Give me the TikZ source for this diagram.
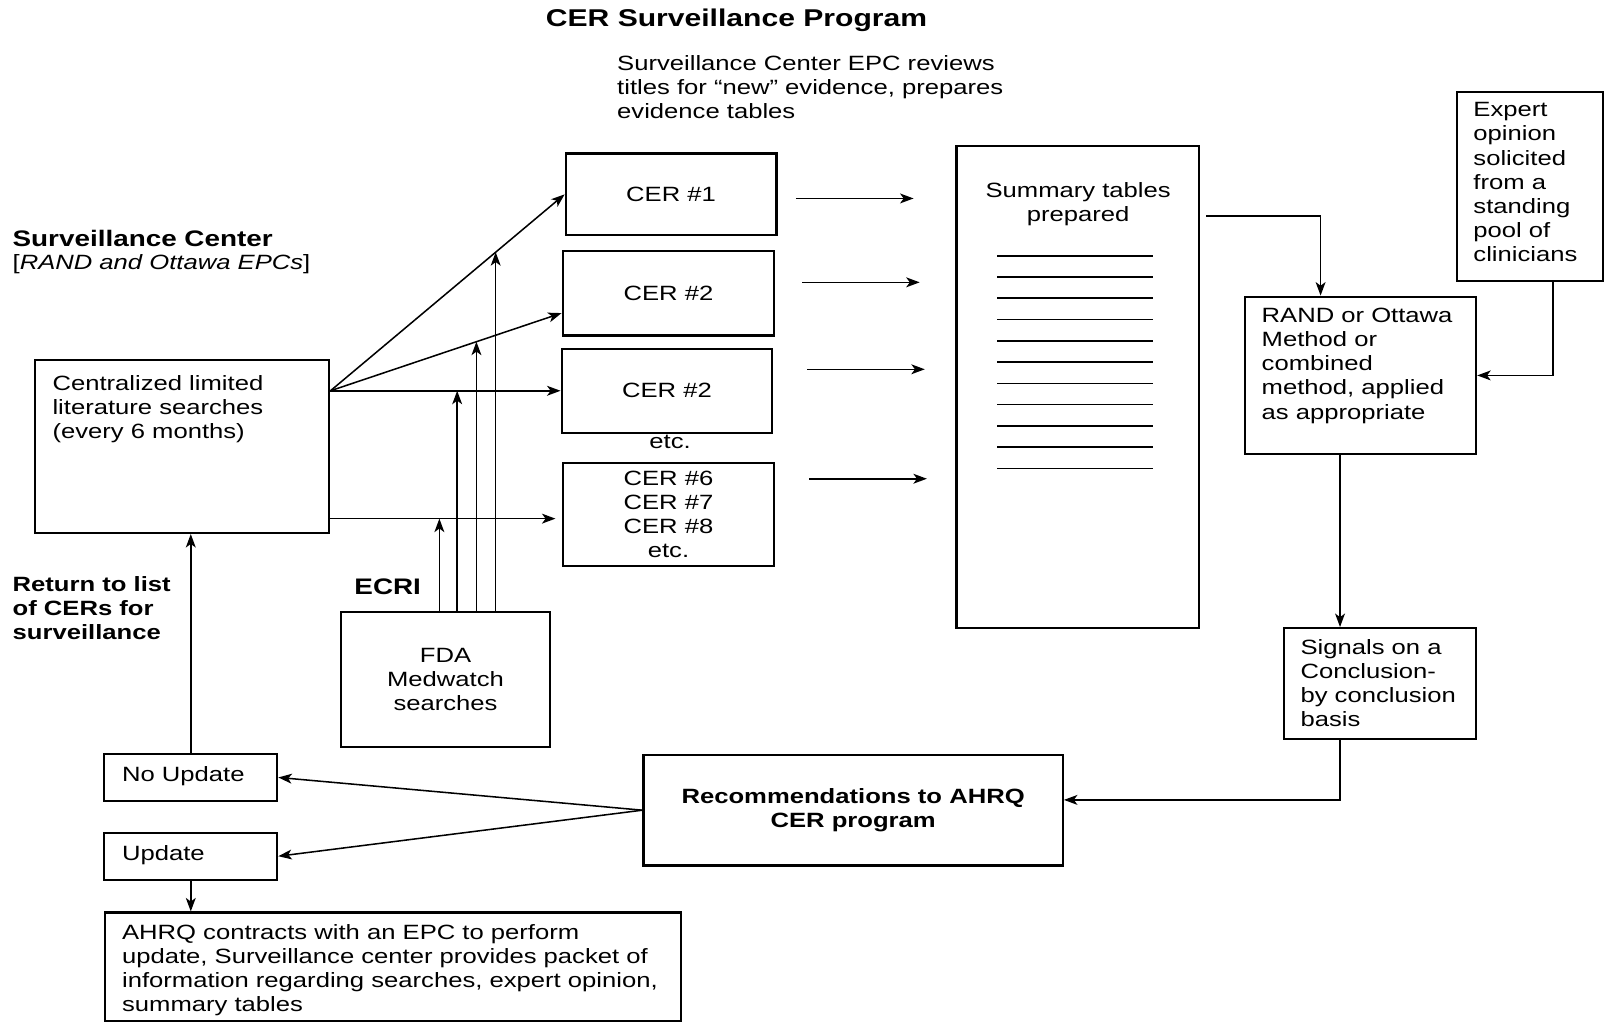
\documentclass[tikz,border=0pt]{standalone}
\usepackage{fontspec}
\setmainfont{Liberation Sans}[FakeStretch=1.24]
\usetikzlibrary{fit,calc,arrows.meta}

\begin{document}
\begin{tikzpicture}[x=0.02cm,y=-0.02cm,
  every node/.style={inner sep=0pt,font=\fontsize{11.5}{13.4}\selectfont},
  box/.style={draw,line width=1.2pt},
  lefttext/.style={anchor=north west,align=left},
  boldtext/.style={font=\fontsize{11.5}{13.4}\selectfont\bfseries},
  bigtext/.style={font=\fontsize{12.5}{15}\selectfont\bfseries},
  arr/.style={-{Stealth[length=7.5pt,width=5.5pt,inset=2pt]},line width=0.85pt}]

  \useasboundingbox (0,0) rectangle (1568,1000);

  \path (720,26) node[anchor=base,font=\fontsize{13.5}{16}\selectfont\bfseries] (title) {CER Surveillance Program};
  \path (603,54) node[lefttext] (epc) {Surveillance Center EPC reviews\\titles for “new” evidence, prepares\\evidence tables};
  \path (12,241) node[anchor=base west,bigtext] (sc) {Surveillance Center};
  \path (12,263) node[anchor=base west] (scsub) {[\textit{RAND and Ottawa EPCs}]};

  \node[box,fit={(34,352) (322,521)}] (cls) {};
  \path (51,367) node[lefttext] (clstext) {Centralized limited\\literature searches\\(every 6 months)};

  \node[box,fit={(553,150) (759,230)}] (cer1) {};
  \path (cer1.center) node (cer1text) {CER \#1};
  \node[box,fit={(550,245) (757,328)}] (cer2) {};
  \path (cer2.center) node (cer2text) {CER \#2};
  \node[box,fit={(549,341) (755,423)}] (cer3) {};
  \path (cer3.center) node (cer3text) {CER \#2};
  \path (655,432) node (etc) {etc.};
  \node[box,fit={(550,453) (757,553)}] (cer4) {};
  \path (cer4.center) node[align=center] (cer4text) {CER \#6\\CER \#7\\CER \#8\\etc.};

  \path (379,581) node[anchor=base,bigtext] (ecri) {ECRI};
  \node[box,fit={(333,598) (538,730)}] (fda) {};
  \path (fda.center) node[align=center] (fdatext) {FDA\\Medwatch\\searches};

  \node[box,fit={(935,143) (1172,614)}] (sum) {};
  \path (1054,178) node[anchor=north,align=center] (sumtext) {Summary tables\\prepared};
  \foreach \k in {0,...,10}
    \draw[line width=0.9pt] (975,{250+20.8*\k}) -- (1127,{250+20.8*\k});

  \node[box,fit={(1424,90) (1567,275)}] (exp) {};
  \path (1440,100) node[lefttext] (exptext) {Expert\\opinion\\solicited\\from a\\standing\\pool of\\clinicians};
  \node[box,fit={(1217,290) (1443,444)}] (rand) {};
  \path (1233,301) node[lefttext] (randtext) {RAND or Ottawa\\Method or\\combined\\method, applied\\as appropriate};
  \node[box,fit={(1255,614) (1443,722)}] (sig) {};
  \path (1271,625) node[lefttext] (sigtext) {Signals on a\\Conclusion-\\by conclusion\\basis};
  \node[box,fit={(629,738) (1039,846)}] (rec) {};
  \path (rec.center) node[align=center,boldtext] (rectext) {Recommendations to AHRQ\\CER program};

  \node[box,fit={(102,737) (271,783)}] (noupd) {};
  \path (119,764) node[anchor=base west] (noupdtext) {No Update};
  \node[box,fit={(102,814) (271,860)}] (upd) {};
  \path (119,841) node[anchor=base west] (updtext) {Update};
  \node[box,fit={(103,892) (666,998)}] (ahrq) {};
  \path (119,903) node[lefttext] (ahrqtext) {AHRQ contracts with an EPC to perform\\update, Surveillance center provides packet of\\information regarding searches, expert opinion,\\summary tables};
  \path (12,563) node[lefttext,boldtext] (ret) {Return to list\\of CERs for\\surveillance};

  \coordinate (src) at (cls.east |- cer3.west);
  \coordinate (c2in) at ([yshift=0.46cm]cer2.south west);
  \coordinate (c4in) at (543,507);
  \draw[arr] (src) -- (cer1.west);
  \draw[arr] (src) -- (c2in);
  \draw[arr] (src) -- (cer3.west);
  \draw[arr] (cls.east |- c4in) -- (c4in);

  \coordinate (f1) at ($(cls.east |- c4in)!0.484!(c4in)$);
  \coordinate (f2) at ($(src)!0.5507!(cer3.west)$);
  \coordinate (f3) at ($(src)!0.6316!(c2in)$);
  \coordinate (f4) at ($(src)!0.7056!(cer1.west)$);
  \draw[arr] (fda.north -| f1) -- (f1);
  \draw[arr] (fda.north -| f2) -- (f2);
  \draw[arr] (fda.north -| f3) -- (f3);
  \draw[arr] (fda.north -| f4) -- (f4);

  \draw[arr] ([shift={(18,4)}]cer1.east) -- ++(115,0);
  \draw[arr] ([shift={(26,-10.5)}]cer2.east) -- ++(115,0);
  \draw[arr] ([shift={(33,-21)}]cer3.east) -- ++(115,0);
  \draw[arr] ([shift={(33,-35)}]cer4.east) -- ++(115,0);

  \coordinate (sumout) at ([shift={(6,69)}]sum.north east);
  \draw[arr] (sumout) -| ([shift={(75,0)}]rand.north west);
  \draw[arr] ([shift={(95,0)}]exp.south west) |- (rand.east);
  \draw[arr] ([shift={(94,0)}]rand.south west) -- ([shift={(56,0)}]sig.north west);
  \draw[arr] ([shift={(56,0)}]sig.south west) |- ([shift={(0,45)}]rec.north east);

  \draw[arr] (rec.west) -- (noupd.east);
  \draw[arr] (rec.west) -- (upd.east);
  \draw[arr] (upd.south) -- (upd.south |- ahrq.north);
  \draw[arr] (noupd.north) -- (noupd.north |- cls.south);

\end{tikzpicture}
\end{document}
